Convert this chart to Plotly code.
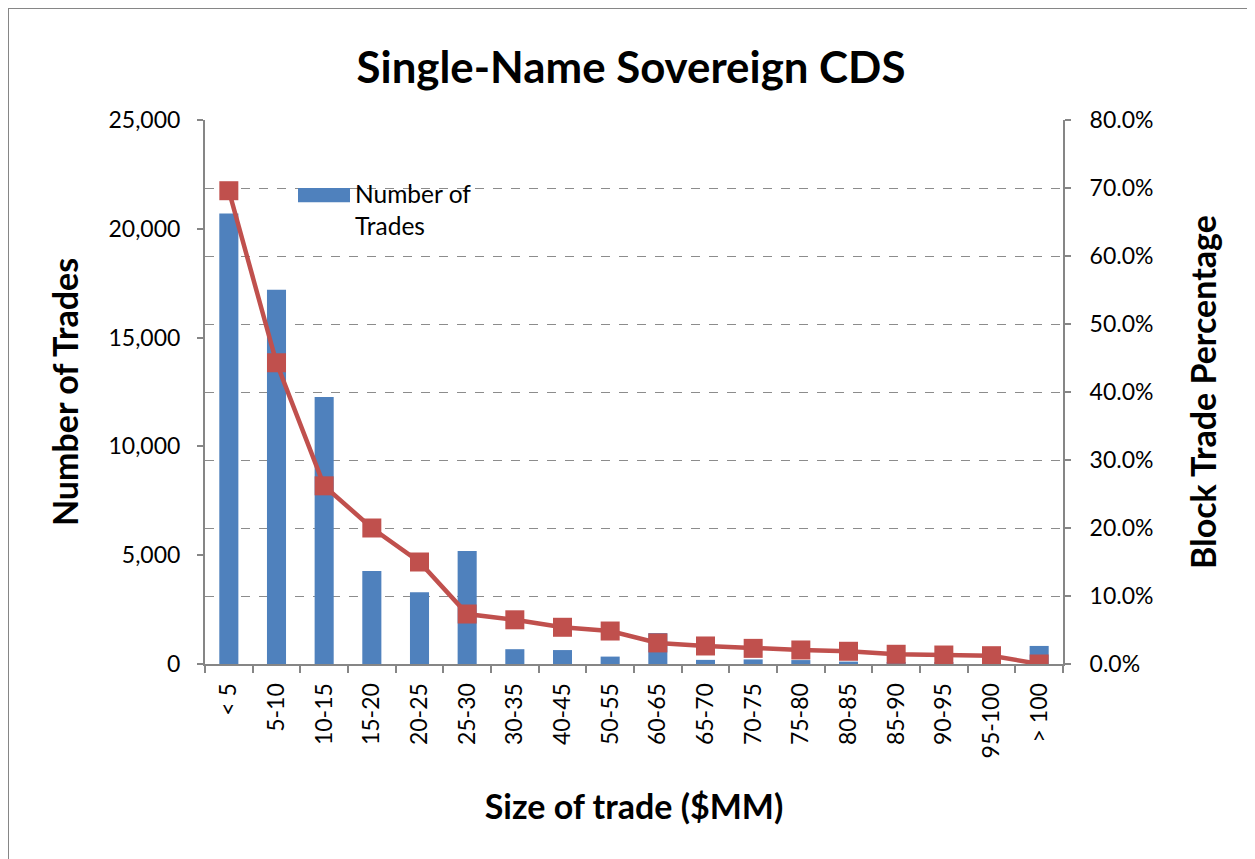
import plotly.graph_objects as go

categories = ["< 5", "5-10", "10-15", "15-20", "20-25", "25-30", "30-35", "40-45",
              "50-55", "60-65", "65-70", "70-75", "75-80", "80-85", "85-90", "90-95",
              "95-100", "> 100"]
num_trades = [20700, 17200, 12270, 4270, 3300, 5190, 680, 640, 340, 1420, 190, 210,
              180, 110, 60, 50, 40, 830]
block_pct = [0.696, 0.443, 0.262, 0.200, 0.150, 0.0735, 0.065, 0.054, 0.0485, 0.031,
             0.0265, 0.023, 0.0206, 0.0187, 0.0143, 0.0132, 0.0122, 0.0]

left_ticks = [0, 5000, 10000, 15000, 20000, 25000]
right_ticks = [0, 0.1, 0.2, 0.3, 0.4, 0.5, 0.6, 0.7, 0.8]

FONT = "Lato, Carlito, Calibri, sans-serif"
axis_gray = "#868686"
BAR_COLOR = "#4F81BD"
LINE_COLOR = "#C0504D"

fig = go.Figure()
fig.add_trace(go.Bar(
    x=categories, y=num_trades, name="Number of Trades",
    marker=dict(color=BAR_COLOR, line=dict(width=0)), yaxis="y", showlegend=False,
))
fig.add_trace(go.Scatter(
    x=categories, y=block_pct, name="Block Trade Percentage", yaxis="y2",
    mode="lines+markers", showlegend=False,
    line=dict(color=LINE_COLOR, width=4.5),
    marker=dict(symbol="square", size=19, color=LINE_COLOR),
))

fig.update_layout(
    width=1247, height=851,
    margin=dict(l=197, r=192, t=112, b=195),
    paper_bgcolor="white", plot_bgcolor="white",
    font=dict(family=FONT, color="black", size=23),
    title=dict(text="<b>Single-Name Sovereign CDS</b>", x=0.4996, xanchor="center",
               y=0.930, yanchor="middle", font=dict(size=43.8, family=FONT)),
    bargap=0.6,
    showlegend=False,
    xaxis=dict(
        type="category", range=[-0.5, len(categories) - 0.5],
        tickangle=-90, showline=True, linecolor=axis_gray, linewidth=2,
        ticks="outside", tickson="boundaries", ticklen=7, tickcolor=axis_gray, tickwidth=2,
        tickfont=dict(size=23), ticklabelstandoff=8,
        title=dict(text="<b>Size of trade ($MM)</b>", font=dict(size=34), standoff=38),
        showgrid=False,
    ),
    yaxis=dict(
        range=[0, 25000], tickvals=left_ticks, tickformat=",d",
        showline=True, linecolor=axis_gray, linewidth=2,
        ticks="outside", ticklen=6, tickcolor=axis_gray, tickwidth=2,
        showgrid=False, zeroline=False, tickfont=dict(size=23), ticklabelstandoff=12,
        title=dict(text="<b>Number of Trades</b>", font=dict(size=34), standoff=20),
    ),
    yaxis2=dict(
        range=[0, 0.8], tickvals=right_ticks, tickformat=".1%", overlaying="y", side="right",
        showline=True, linecolor=axis_gray, linewidth=2,
        ticks="outside", ticklen=6, tickcolor=axis_gray, tickwidth=2,
        showgrid=True, gridcolor="#8c8c8c", gridwidth=1, griddash="dash", zeroline=False,
        tickfont=dict(size=23), ticklabelstandoff=14,
        title=dict(text="<b>Block Trade Percentage</b>", font=dict(size=34), standoff=40),
    ),
)

# legend (wide swatch like the original)
fig.add_shape(type="rect", xref="paper", yref="paper", x0=0.1084, x1=0.169, y0=0.849, y1=0.875,
              fillcolor=BAR_COLOR, line=dict(width=0))
fig.add_annotation(text="Number of<br>Trades", xref="paper", yref="paper", x=0.1720, y=0.895,
                   xanchor="left", yanchor="top", align="left", showarrow=False,
                   font=dict(size=24.5, family=FONT))

# outer chart frame (top and left edges visible)
fig.add_shape(type="line", xref="paper", yref="paper", x0=-0.2296, x1=1.25, y0=1.2059, y1=1.2059,
              line=dict(color="#868686", width=2))
fig.add_shape(type="line", xref="paper", yref="paper", x0=-0.2296, x1=-0.2296, y0=1.2059, y1=-0.4,
              line=dict(color="#868686", width=2))

fig.write_html("out.html")
